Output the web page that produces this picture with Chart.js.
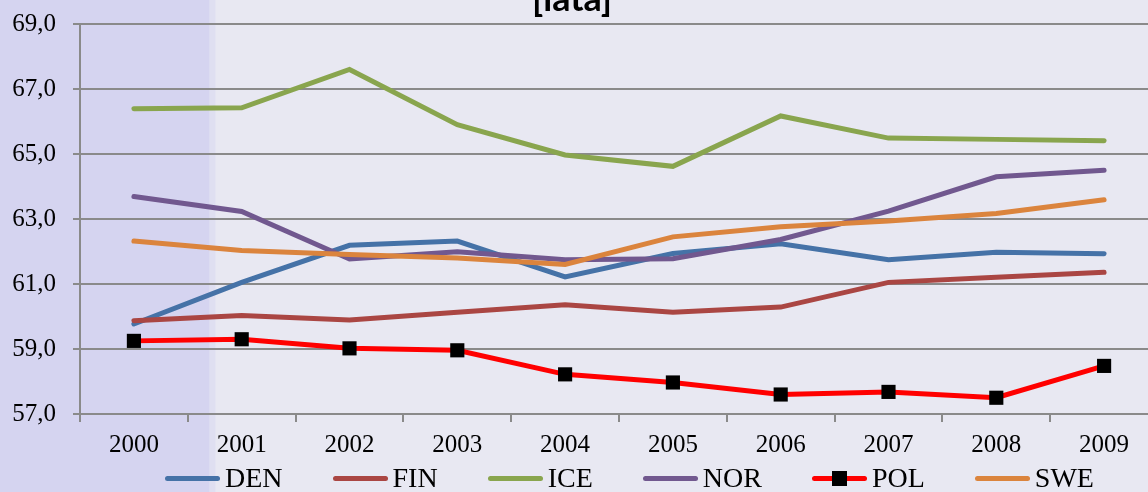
<!DOCTYPE html>
<html>
<head>
<meta charset="utf-8">
<script src="https://cdn.jsdelivr.net/npm/chart.js@4.4.0/dist/chart.umd.min.js"></script>
<style>
  html, body { margin: 0; padding: 0; width: 1148px; height: 492px; overflow: hidden; background: #e8e8f2; }
  #wrap { position: absolute; left: 0; top: -22px; width: 1168px; height: 514px; }
  #legend { position: absolute; left: 165px; top: 464px; display: flex; align-items: center; gap: 50px; }
  .lg-item { display: flex; align-items: center; font: 28px 'Liberation Serif', serif; line-height: 28px; color: #000; }
  .lg-line { position: relative; width: 55px; height: 5px; border-radius: 3px; margin-right: 5px; }
  .lg-mark { position: absolute; left: 20px; top: -5px; width: 15px; height: 15px; background: #000; }
</style>
</head>
<body>
<div id="wrap"><canvas id="chart" width="1168" height="514"></canvas></div>
<div id="legend"></div>
<script>
// values
const years = ['2000', '2001', '2002', '2003', '2004', '2005', '2006', '2007', '2008', '2009'];
const den = [59.77, 61.05, 62.19, 62.32, 61.22, 61.94, 62.24, 61.75, 61.98, 61.93];
const fin = [59.87, 60.03, 59.89, 60.13, 60.36, 60.13, 60.29, 61.05, 61.21, 61.36];
const ice = [66.39, 66.42, 67.60, 65.90, 64.97, 64.62, 66.17, 65.49, 65.45, 65.41];
const nor = [63.69, 63.23, 61.77, 61.99, 61.75, 61.78, 62.37, 63.24, 64.30, 64.50];
const pol = [59.25, 59.30, 59.02, 58.96, 58.22, 57.97, 57.60, 57.68, 57.50, 58.48];
const swe = [62.32, 62.03, 61.91, 61.80, 61.60, 62.45, 62.76, 62.94, 63.17, 63.59];

const yMin = 57;
const yMax = 69;
const yStep = 2;

const GRID = '#8a8a8a';
const SHADE_END = 0.7; // shaded band ends this far into the category axis

// background with the darker band on the left
const backdrop = {
    id: 'backdrop',
    beforeDraw(chart) {
        const ctx = chart.ctx;
        const x = chart.scales.x.getPixelForValue(SHADE_END);
        ctx.save();
        ctx.fillStyle = '#e8e8f2';
        ctx.fillRect(0, 0, chart.width, chart.height);
        ctx.fillStyle = '#d5d4f0';
        ctx.fillRect(0, 0, x, chart.height);
        ctx.fillStyle = 'rgba(213,212,240,0.45)';
        ctx.fillRect(x, 0, 6, chart.height);
        ctx.restore();
    }
};

function line(label, data, color, order) {
    return {
        label: label,
        data: data,
        borderColor: color,
        backgroundColor: color,
        borderWidth: 5,
        borderCapStyle: 'round',
        pointRadius: 0,
        tension: 0,
        order: order
    };
}

const polSet = line('POL', pol, '#ff0000', 1);
polSet.pointRadius = 10;
polSet.pointStyle = 'rect';
polSet.pointBackgroundColor = '#000';
polSet.pointBorderColor = '#000';
polSet.pointBorderWidth = 0;

const chart = new Chart(document.getElementById('chart').getContext('2d'), {
    type: 'line',
    data: {
        labels: years,
        datasets: [
            line('DEN', den, '#4572a7', 5),
            line('FIN', fin, '#aa4643', 4),
            line('ICE', ice, '#89a54e', 3),
            line('NOR', nor, '#71588f', 2),
            polSet,
            line('SWE', swe, '#db843d', 0)
        ]
    },
    options: {
        responsive: false,
        animation: false,
        // left padding pulled in so the title centres where the original sits
        layout: { padding: { left: -16, right: 8, top: 0, bottom: 24 } },
        plugins: {
            legend: { display: false },
            tooltip: { enabled: false },
            title: {
                display: true,
                text: '[lata]',
                color: '#000',
                font: { family: 'Lato', weight: 'bold', size: 36 },
                padding: { top: 0, bottom: 2.8 }
            }
        },
        scales: {
            x: {
                offset: true,
                grid: { display: true, drawOnChartArea: false, drawTicks: true, tickLength: 8, offset: true, color: GRID, lineWidth: 2 },
                border: { display: true, color: GRID, width: 2 },
                ticks: { color: '#000', padding: 8, font: { family: 'Liberation Serif', size: 25 }, maxRotation: 0 }
            },
            y: {
                min: yMin,
                max: yMax,
                afterFit: axis => { axis.width = 96; },
                ticks: {
                    stepSize: yStep,
                    color: '#000',
                    padding: 17,
                    font: { family: 'Liberation Serif', size: 25 },
                    callback: v => v.toFixed(1).replace('.', ',')
                },
                grid: { color: GRID, lineWidth: 2, tickLength: 7 },
                border: { display: true, color: GRID, width: 2 }
            }
        }
    },
    plugins: [backdrop]
});

// html legend in dataset order
const legendBox = document.getElementById('legend');
chart.data.datasets.forEach(ds => {
    const item = document.createElement('div');
    item.className = 'lg-item';
    const sample = document.createElement('div');
    sample.className = 'lg-line';
    sample.style.background = ds.borderColor;
    if (ds.pointStyle === 'rect') {
        const mark = document.createElement('div');
        mark.className = 'lg-mark';
        sample.appendChild(mark);
    }
    const text = document.createElement('span');
    text.textContent = ds.label;
    item.appendChild(sample);
    item.appendChild(text);
    legendBox.appendChild(item);
});
</script>
</body>
</html>
